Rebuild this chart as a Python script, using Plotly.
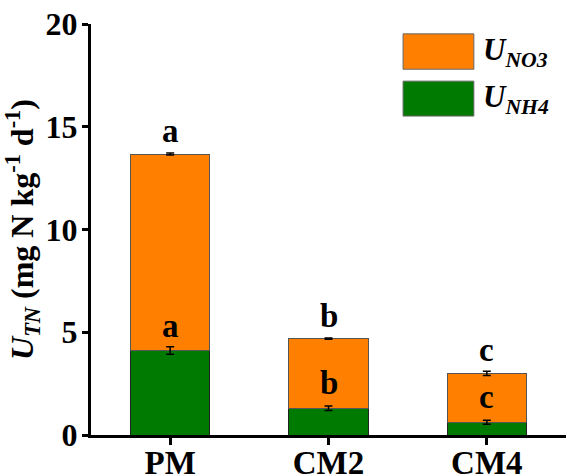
import plotly.graph_objects as go

categories = ["PM", "CM2", "CM4"]
nh4_values = [4.11, 1.30, 0.62]
nh4_errors = [0.18, 0.11, 0.10]
total_values = [13.67, 4.69, 3.00]
total_errors = [0.05, 0.03, 0.10]
no3_values = [t - n for t, n in zip(total_values, nh4_values)]
letters_total = ["a", "b", "c"]
letters_nh4 = ["a", "b", "c"]
y_ticks = [0, 5, 10, 15, 20]

FONT = "Liberation Serif"
ORANGE = "#FF8000"
GREEN = "#007A00"

fig = go.Figure()
fig.add_trace(go.Bar(
    x=categories, y=nh4_values, name="NH4",
    marker=dict(color=GREEN, line=dict(color="#222222", width=1)),
    width=0.5, showlegend=False,
))
fig.add_trace(go.Bar(
    x=categories, y=no3_values, name="NO3",
    marker=dict(color=ORANGE, line=dict(color="#555555", width=1)),
    width=0.5, showlegend=False,
))
# error bars drawn above the bars
fig.add_trace(go.Scatter(
    x=categories, y=nh4_values, mode="markers", marker=dict(opacity=0, size=1),
    error_y=dict(type="data", array=nh4_errors, color="black", thickness=1.5, width=4),
    showlegend=False, hoverinfo="skip",
))
fig.add_trace(go.Scatter(
    x=categories, y=total_values, mode="markers", marker=dict(opacity=0, size=1),
    error_y=dict(type="data", array=total_errors, color="black", thickness=1.5, width=4),
    showlegend=False, hoverinfo="skip",
))

anns = []
for c, t, n, lt, ln in zip(categories, total_values, nh4_values, letters_total, letters_nh4):
    anns.append(dict(x=c, y=t, xref="x", yref="y", text=lt, showarrow=False,
                     yanchor="bottom", yshift=3,
                     font=dict(family=FONT, size=33, color="black", weight="bold")))
    anns.append(dict(x=c, y=n, xref="x", yref="y", text=ln, showarrow=False,
                     yanchor="bottom", yshift=5,
                     font=dict(family=FONT, size=33, color="black", weight="bold")))

# legend drawn manually
legend_items = [("<i>U</i><sub><i>NO3</i></sub>", ORANGE, 0.976, 0.890),
                ("<i>U</i><sub><i>NH4</i></sub>", GREEN, 0.861, 0.776)]
shapes = []
for txt, col, ytop, ybot in legend_items:
    shapes.append(dict(type="rect", xref="paper", yref="paper", x0=0.657, x1=0.806,
                       y0=ybot, y1=ytop, fillcolor=col, line=dict(color="#666666", width=1)))
    anns.append(dict(x=0.82, y=(ytop + ybot) / 2, xref="paper", yref="paper", text=txt,
                     showarrow=False, xanchor="left", yanchor="middle",
                     font=dict(family=FONT, size=31, color="black", weight="bold")))

fig.update_layout(
    width=567, height=476,
    margin=dict(l=91, r=1, t=24, b=41),
    plot_bgcolor="white", paper_bgcolor="white",
    barmode="stack",
    font=dict(family=FONT, size=32, color="black", weight="bold"),
    annotations=anns, shapes=shapes,
    xaxis=dict(range=[-0.5, 2.5], showline=True, linecolor="black", linewidth=3,
               ticks="outside", ticklen=7, tickwidth=3, tickcolor="black", automargin=False,
               ticklabelstandoff=-11,
               tickfont=dict(family=FONT, size=33, weight="bold")),
    yaxis=dict(range=[0, 20], tickvals=y_ticks, showline=True, linecolor="black", linewidth=3,
               ticks="outside", ticklen=6, tickwidth=3, tickcolor="black", showgrid=False,
               zeroline=False, automargin=False, ticklabelstandoff=-2,
               tickfont=dict(family=FONT, size=32, weight="bold"),
               title=dict(text="<i>U</i><sub><i>TN</i></sub> (mg N kg<sup>-1</sup> d<sup>-1</sup>)",
                          font=dict(family=FONT, size=32, weight="bold"), standoff=5)),
)
fig.write_html("out.html", config={"displayModeBar": False},
               post_script="document.body.style.margin='0px';document.body.style.overflow='hidden';")
